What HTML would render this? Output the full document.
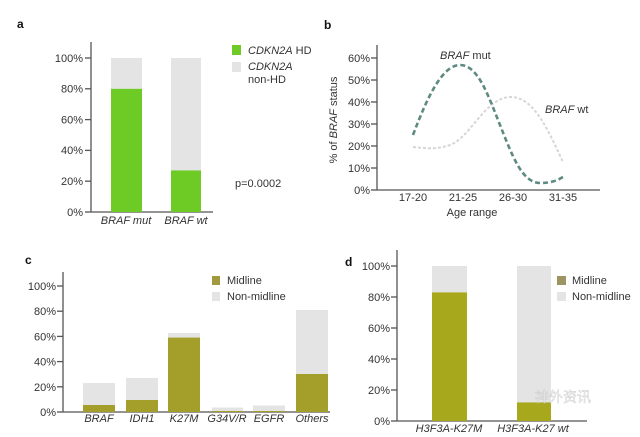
<!DOCTYPE html>
<html><head><meta charset="utf-8"><style>
html,body{margin:0;padding:0;background:#fff;}
svg{display:block;}
text{font-family:"Liberation Sans","Noto Sans CJK SC",sans-serif;fill:#333;}
.t{font-size:11px;}
.i{font-style:italic;}
.b{font-weight:bold;font-size:12px;fill:#111;}
</style></head><body>
<svg width="640" height="437" viewBox="0 0 640 437" xmlns="http://www.w3.org/2000/svg">
<rect width="640" height="437" fill="#fff"/>

<!-- Panel a -->
<text x="17" y="28" class="b">a</text>
<g stroke="#555" stroke-width="1.3" fill="none">
<line x1="91" y1="42" x2="91" y2="212"/>
<line x1="91" y1="212" x2="213" y2="212"/>
<line x1="85" y1="212" x2="91" y2="212"/>
<line x1="85" y1="181.2" x2="91" y2="181.2"/>
<line x1="85" y1="150.4" x2="91" y2="150.4"/>
<line x1="85" y1="119.6" x2="91" y2="119.6"/>
<line x1="85" y1="88.8" x2="91" y2="88.8"/>
<line x1="85" y1="58" x2="91" y2="58"/>
</g>
<g class="t" text-anchor="end">
<text x="83" y="216">0%</text>
<text x="83" y="185">20%</text>
<text x="83" y="154">40%</text>
<text x="83" y="123.5">60%</text>
<text x="83" y="92.5">80%</text>
<text x="83" y="62">100%</text>
</g>
<rect x="111" y="58" width="31" height="30.8" fill="#e4e4e4"/>
<rect x="111" y="88.8" width="31" height="123.2" fill="#6ecb26"/>
<rect x="171" y="58" width="30" height="112.4" fill="#e4e4e4"/>
<rect x="171" y="170.4" width="30" height="41.6" fill="#6ecb26"/>
<text x="126" y="224" class="t i" text-anchor="middle">BRAF mut</text>
<text x="186" y="224" class="t i" text-anchor="middle">BRAF wt</text>
<rect x="232" y="45" width="9" height="10" fill="#6ecb26"/>
<text x="248" y="54" class="t"><tspan class="i">CDKN2A</tspan> HD</text>
<rect x="232" y="62" width="9" height="10" fill="#e4e4e4"/>
<text x="248" y="70" class="t i">CDKN2A</text>
<text x="248" y="83" class="t">non-HD</text>
<text x="235" y="187" class="t">p=0.0002</text>

<!-- Panel b -->
<text x="324" y="29" class="b">b</text>
<g stroke="#555" stroke-width="1.3" fill="none">
<line x1="377" y1="45" x2="377" y2="190"/>
<line x1="377" y1="190" x2="600" y2="190"/>
<line x1="371" y1="190" x2="377" y2="190"/>
<line x1="371" y1="168" x2="377" y2="168"/>
<line x1="371" y1="146" x2="377" y2="146"/>
<line x1="371" y1="124" x2="377" y2="124"/>
<line x1="371" y1="102" x2="377" y2="102"/>
<line x1="371" y1="80" x2="377" y2="80"/>
<line x1="371" y1="58" x2="377" y2="58"/>
</g>
<g class="t" text-anchor="end">
<text x="370" y="194">0%</text>
<text x="370" y="172">10%</text>
<text x="370" y="150">20%</text>
<text x="370" y="128">30%</text>
<text x="370" y="106">40%</text>
<text x="370" y="84">50%</text>
<text x="370" y="62">60%</text>
</g>
<g class="t" text-anchor="middle">
<text x="413" y="201">17-20</text>
<text x="463" y="201">21-25</text>
<text x="513" y="201">26-30</text>
<text x="563" y="201">31-35</text>
<text x="472" y="216">Age range</text>
</g>
<text transform="translate(337,120) rotate(-90)" class="t" text-anchor="middle">% of <tspan class="i">BRAF</tspan> status</text>
<path d="M413,147 C425,148 435,150 450,145 C470,138 485,98 510,97 C535,96 550,135 563,162" fill="none" stroke="#d6d6d6" stroke-width="2" stroke-dasharray="3,2"/>
<path d="M413,135 C428,95 443,65 460,65 C478,65 488,95 500,125 C512,155 522,183 540,183 C552,183 558,180 563,177" fill="none" stroke="#5e8a82" stroke-width="2.6" stroke-dasharray="5,3"/>
<text x="440" y="59" class="t"><tspan class="i">BRAF</tspan> mut</text>
<text x="545" y="113" class="t"><tspan class="i">BRAF</tspan> wt</text>

<!-- Panel c -->
<text x="25" y="264" class="b">c</text>
<g stroke="#555" stroke-width="1.3" fill="none">
<line x1="63" y1="272" x2="63" y2="412"/>
<line x1="63" y1="412" x2="330" y2="412"/>
<line x1="57" y1="412" x2="63" y2="412"/>
<line x1="57" y1="386.8" x2="63" y2="386.8"/>
<line x1="57" y1="361.6" x2="63" y2="361.6"/>
<line x1="57" y1="336.4" x2="63" y2="336.4"/>
<line x1="57" y1="311.2" x2="63" y2="311.2"/>
<line x1="57" y1="286" x2="63" y2="286"/>
</g>
<g class="t" text-anchor="end">
<text x="56" y="416">0%</text>
<text x="56" y="391">20%</text>
<text x="56" y="365.5">40%</text>
<text x="56" y="340.5">60%</text>
<text x="56" y="315">80%</text>
<text x="56" y="290">100%</text>
</g>
<g fill="#e4e4e4">
<rect x="83" y="383" width="32" height="22"/>
<rect x="126" y="378" width="32" height="22"/>
<rect x="168" y="333" width="32" height="5"/>
<rect x="212" y="407.5" width="31" height="4"/>
<rect x="253" y="405.5" width="32" height="6"/>
<rect x="296" y="310" width="32" height="64"/>
</g>
<g fill="#a49e2a">
<rect x="83" y="405" width="32" height="7"/>
<rect x="126" y="400" width="32" height="12"/>
<rect x="168" y="337.6" width="32" height="74.4"/>
<rect x="212" y="411" width="31" height="1"/>
<rect x="253" y="411" width="32" height="1"/>
<rect x="296" y="374" width="32" height="38"/>
</g>
<g class="t i" text-anchor="middle">
<text x="99" y="422">BRAF</text>
<text x="142" y="422">IDH1</text>
<text x="184" y="422">K27M</text>
<text x="227" y="422">G34V/R</text>
<text x="269" y="422">EGFR</text>
<text x="312" y="422">Others</text>
</g>
<rect x="212" y="276" width="8" height="9" fill="#a09a3c"/>
<text x="227" y="284" class="t">Midline</text>
<rect x="212" y="292" width="8" height="9" fill="#e4e4e4"/>
<text x="227" y="300" class="t">Non-midline</text>

<!-- Panel d -->
<text x="345" y="266" class="b">d</text>
<g stroke="#555" stroke-width="1.3" fill="none">
<line x1="397" y1="250" x2="397" y2="421"/>
<line x1="397" y1="421" x2="587" y2="421"/>
<line x1="391" y1="421" x2="397" y2="421"/>
<line x1="391" y1="390" x2="397" y2="390"/>
<line x1="391" y1="359" x2="397" y2="359"/>
<line x1="391" y1="328" x2="397" y2="328"/>
<line x1="391" y1="297" x2="397" y2="297"/>
<line x1="391" y1="266" x2="397" y2="266"/>
</g>
<g class="t" text-anchor="end">
<text x="390" y="425">0%</text>
<text x="390" y="394">20%</text>
<text x="390" y="363">40%</text>
<text x="390" y="332">60%</text>
<text x="390" y="301">80%</text>
<text x="390" y="270">100%</text>
</g>
<rect x="432" y="266" width="35" height="26.4" fill="#e4e4e4"/>
<rect x="432" y="292.4" width="35" height="128.6" fill="#a8a81c"/>
<rect x="517" y="266" width="34" height="136.4" fill="#e4e4e4"/>
<rect x="517" y="402.4" width="34" height="18.6" fill="#a8a81c"/>
<text x="449" y="432" class="t i" text-anchor="middle">H3F3A-K27M</text>
<text x="533" y="432" class="t i" text-anchor="middle">H3F3A-K27 wt</text>
<rect x="557" y="276" width="9" height="9" fill="#9c9462"/>
<text x="572" y="284" class="t">Midline</text>
<rect x="557" y="292" width="9" height="9" fill="#e4e4e4"/>
<text x="572" y="300" class="t">Non-midline</text>
<text x="535" y="402" style="font-size:14px;fill:#f4f4f4;stroke:#bbb;stroke-width:0.4;opacity:0.8">神外资讯</text>
</svg>
</body></html>
